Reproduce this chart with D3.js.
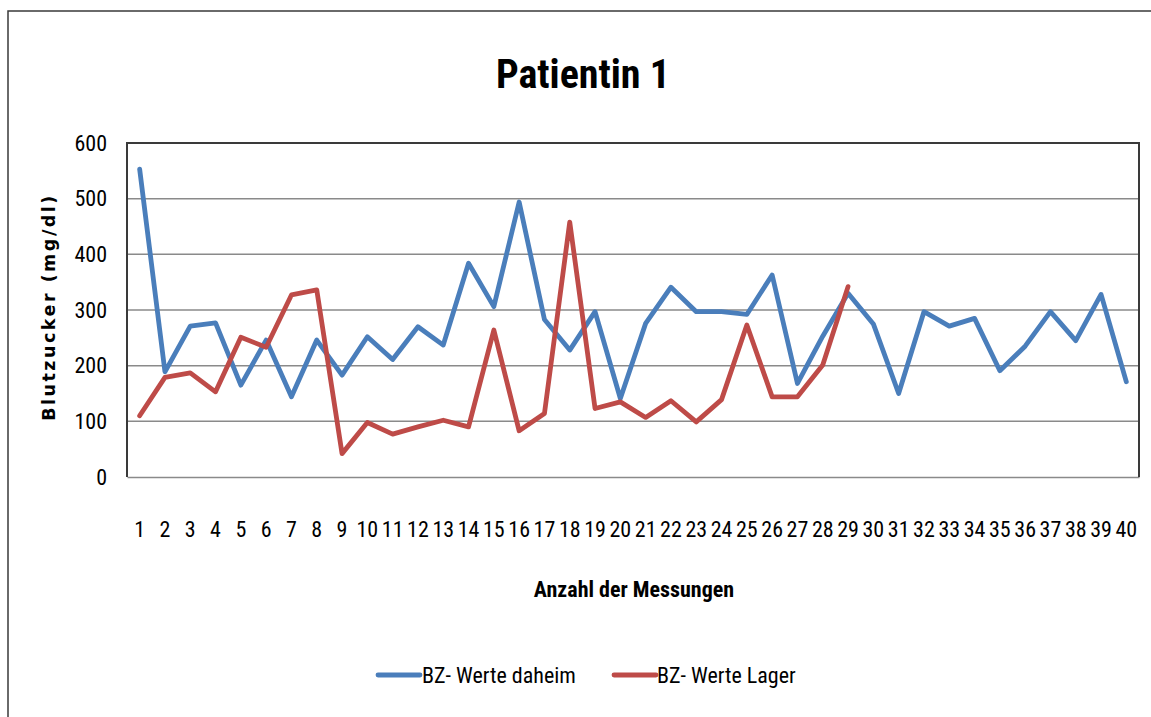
<!DOCTYPE html>
<html><head><meta charset="utf-8">
<script src="https://cdn.jsdelivr.net/npm/d3@7"></script>
<style>body{margin:0;background:#fff}svg{display:block}</style>
</head><body>
<svg id="c" width="1151" height="717"></svg>
<script>
const categories = d3.range(1, 41).map(String);
const daheim = [553,189,271,277,165,246,144,246,183,252,211,270,237,384,306,494,283,228,297,141,276,341,297,297,292,363,168,253,330,275,150,297,271,285,191,235,297,245,328,171];
const lager = [110,179,187,153,251,233,327,336,42,98,77,90,102,90,264,83,114,458,123,135,107,137,99,139,273,144,144,201,342];
const yTicks = [0,100,200,300,400,500,600];
const seriesNames = ["BZ- Werte daheim","BZ- Werte Lager"];
const colors = ["#4a7ebb","#be4b48"];
const title = "Patientin 1";
const xTitle = "Anzahl der Messungen";
const yTitle = "Blutzucker (mg/dl)";

const svg = d3.select("#c");
const narrow = "'Liberation Sans Narrow','Arial Narrow','Roboto Condensed',sans-serif";
const m = {l:127, t:143, r:1139, b:477};

svg.append("rect").attr("x",8).attr("y",11).attr("width",1200).attr("height",800)
  .attr("fill","#fff").attr("stroke","#3a3a3a").attr("stroke-width",1.5);

const x = d3.scaleBand().domain(categories).range([m.l, m.r]);
const y = d3.scaleLinear().domain([0,600]).range([m.b, m.t]);

// grid
svg.append("g").selectAll("line").data(yTicks.filter(d=>d>0 && d<600)).join("line")
  .attr("x1",m.l).attr("x2",m.r).attr("y1",d=>y(d)).attr("y2",d=>y(d))
  .attr("stroke","#8a8a8a").attr("stroke-width",1.5);

// y axis labels
const ya = svg.append("g").attr("transform",`translate(${m.l},0)`)
  .call(d3.axisLeft(y).tickValues(yTicks).tickSize(0).tickPadding(20));
ya.select(".domain").remove();
ya.selectAll("text").attr("font-family",narrow).attr("font-size",22).attr("fill","#000");

// x axis labels
const xa = svg.append("g").attr("transform",`translate(0,${m.b})`)
  .call(d3.axisBottom(x).tickSize(0).tickPadding(44));
xa.select(".domain").attr("stroke","#8a8a8a").attr("stroke-width",1.5);
xa.selectAll("text").attr("font-family",narrow).attr("font-size",22).attr("fill","#000");

// plot border
svg.append("path").attr("d",`M${m.l},${m.b}V${m.t}H${m.r}V${m.b}`)
  .attr("fill","none").attr("stroke","#3a3a3a").attr("stroke-width",2);

const line = d3.line().x((d,i)=>x(categories[i])+x.bandwidth()/2).y(d=>y(d));
[daheim, lager].forEach((s,k)=>{
  svg.append("path").datum(s).attr("d",line).attr("fill","none")
    .attr("stroke",colors[k]).attr("stroke-width",4.8).attr("stroke-linejoin","round").attr("stroke-linecap","round");
});

svg.append("text").attr("x",583).attr("y",88).attr("text-anchor","middle")
  .attr("font-family",narrow).attr("font-weight","bold").attr("font-size",40).text(title);
svg.append("text").attr("x",634).attr("y",597).attr("text-anchor","middle")
  .attr("font-family",narrow).attr("font-weight","bold").attr("font-size",22).text(xTitle);
svg.append("text").attr("transform","translate(55,307) rotate(-90)").attr("text-anchor","middle")
  .attr("font-family","'DejaVu Sans',sans-serif").attr("font-weight","bold").attr("font-size",17.5)
  .attr("letter-spacing",2.5).text(yTitle);

// legend
const lg = [{x:378,tx:422},{x:614,tx:657}];
seriesNames.forEach((n,k)=>{
  svg.append("line").attr("x1",lg[k].x).attr("x2",lg[k].x+42).attr("y1",675).attr("y2",675)
    .attr("stroke",colors[k]).attr("stroke-width",4.8).attr("stroke-linecap","round");
  svg.append("text").attr("x",lg[k].tx).attr("y",683).attr("font-family",narrow).attr("font-size",22).text(n);
});
</script>
</body></html>
